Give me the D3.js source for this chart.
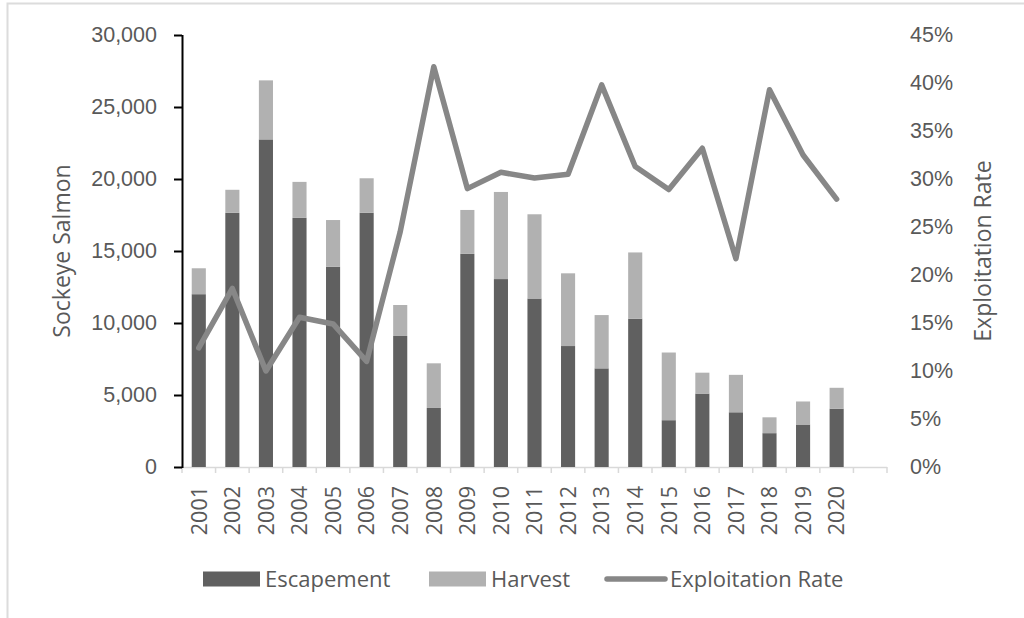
<!DOCTYPE html>
<html>
<head>
<meta charset="utf-8">
<script src="https://cdn.jsdelivr.net/npm/d3@7"></script>
<style>
  body { margin: 0; background: #fff; }
  svg { display: block; font-family: "Open Sans", "Noto Sans", sans-serif; }
  text { fill: #595959; }
</style>
</head>
<body>
<svg id="chart" width="1024" height="618"></svg>
<script>
const years = ["2001","2002","2003","2004","2005","2006","2007","2008","2009","2010",
               "2011","2012","2013","2014","2015","2016","2017","2018","2019","2020"];
const escapement = [12000, 17650, 22750, 17300, 13900, 17650, 9100, 4100, 14800, 13050,
                    11700, 8400, 6850, 10300, 3250, 5100, 3800, 2350, 2950, 4050];
const harvest = [1800, 1600, 4100, 2500, 3250, 2400, 2150, 3100, 3050, 6050,
                 5850, 5050, 3700, 4600, 4700, 1450, 2600, 1100, 1600, 1450];
const exploitRate = [0.124, 0.186, 0.100, 0.156, 0.149, 0.110, 0.245, 0.417, 0.290, 0.307,
                     0.301, 0.305, 0.398, 0.313, 0.289, 0.332, 0.217, 0.393, 0.325, 0.279];
const leftTicks = [0, 5000, 10000, 15000, 20000, 25000, 30000];
const rightTicks = [0, 0.05, 0.10, 0.15, 0.20, 0.25, 0.30, 0.35, 0.40, 0.45];

const svg = d3.select("#chart");
const margin = { top: 35, right: 137, bottom: 151, left: 182 };
const width = 1024 - margin.left - margin.right;
const height = 618 - margin.top - margin.bottom;

// chart area border (only top and left edges show in the crop)
svg.append("path")
    .attr("d", "M7.5,620V3.5H1030")
    .attr("fill", "none")
    .attr("stroke", "#dcdcdc")
    .attr("stroke-width", 2);

const g = svg.append("g").attr("transform", `translate(${margin.left},${margin.top})`);

// one extra empty slot after 2020, like the original
const slots = years.concat(["pad"]);
const x = d3.scaleBand().domain(slots).range([0, width]).padding(0);
const y = d3.scaleLinear().domain([0, 30000]).range([height, 0]);
const y2 = d3.scaleLinear().domain([0, 0.45]).range([height, 0]);

const barW = x.bandwidth() * 0.42;
const cx = d => x(d) + x.bandwidth() / 2;

// bottom axis line + boundary ticks
g.append("line")
    .attr("x1", 0).attr("x2", width)
    .attr("y1", height + 0.5).attr("y2", height + 0.5)
    .attr("stroke", "#d9d9d9").attr("stroke-width", 1.5);

g.selectAll(".xtick")
    .data(d3.range(slots.length + 1))
    .enter().append("line")
    .attr("class", "xtick")
    .attr("x1", i => i * x.step()).attr("x2", i => i * x.step())
    .attr("y1", height).attr("y2", height + 6)
    .attr("stroke", "#d9d9d9").attr("stroke-width", 1.5);

// bars
const bars = g.selectAll(".bar-group")
    .data(years.map((yr, i) => ({ yr, esc: escapement[i], har: harvest[i] })))
    .enter().append("g").attr("class", "bar-group");

bars.append("rect")
    .attr("x", d => cx(d.yr) - barW / 2)
    .attr("width", barW)
    .attr("y", d => y(d.esc))
    .attr("height", d => y(0) - y(d.esc))
    .attr("fill", "#606060");

bars.append("rect")
    .attr("x", d => cx(d.yr) - barW / 2)
    .attr("width", barW)
    .attr("y", d => y(d.esc + d.har))
    .attr("height", d => y(d.esc) - y(d.esc + d.har))
    .attr("fill", "#b1b1b1");

// exploitation rate line
const line = d3.line()
    .x((d, i) => cx(years[i]))
    .y(d => y2(d));

g.append("path")
    .datum(exploitRate)
    .attr("d", line)
    .attr("fill", "none")
    .attr("stroke", "#878787")
    .attr("stroke-width", 5.5)
    .attr("stroke-linejoin", "round")
    .attr("stroke-linecap", "round");

// left axis
const yAxis = g.append("g")
    .call(d3.axisLeft(y).tickValues(leftTicks).tickSize(8).tickPadding(17)
        .tickFormat(d3.format(",")));
yAxis.select(".domain").attr("stroke", "#000").attr("stroke-width", 2)
    .attr("d", `M0.5,0V${height + 1}`);
yAxis.selectAll(".tick line").attr("stroke", "#000").attr("stroke-width", 2);
yAxis.selectAll("text").style("font-size", "21.5px").style("fill", "#595959")
    .attr("font-family", null);

// right axis (labels only)
const y2Axis = g.append("g")
    .attr("transform", `translate(${width},0)`)
    .call(d3.axisRight(y2).tickValues(rightTicks).tickSize(0).tickPadding(23)
        .tickFormat(d3.format(".0%")));
y2Axis.select(".domain").remove();
y2Axis.selectAll("text").style("font-size", "21.5px").style("fill", "#595959")
    .attr("font-family", null);

// x labels, rotated
g.selectAll(".xlabel")
    .data(years)
    .enter().append("text")
    .attr("class", "xlabel")
    .attr("transform", d => `translate(${cx(d)},${height + 19}) rotate(-90)`)
    .attr("text-anchor", "end")
    .attr("dy", "0.36em")
    .style("font-size", "21.5px")
    .text(d => d);

// axis titles
g.append("text")
    .attr("transform", `translate(${-120},${height / 2}) rotate(-90)`)
    .attr("text-anchor", "middle")
    .attr("dy", "0.35em")
    .style("font-size", "23px")
    .text("Sockeye Salmon");

g.append("text")
    .attr("transform", `translate(${width + 96},${height / 2}) rotate(-90)`)
    .attr("text-anchor", "middle")
    .attr("dy", "0.35em")
    .style("font-size", "23px")
    .text("Exploitation Rate");

// legend
const legend = svg.append("g").attr("transform", "translate(0,579)");
const legendItems = [
    { label: "Escapement", type: "rect", color: "#606060", x: 203 },
    { label: "Harvest", type: "rect", color: "#b1b1b1", x: 429 },
    { label: "Exploitation Rate", type: "line", color: "#878787", x: 605 }
];
legendItems.forEach(item => {
    if (item.type === "rect") {
        legend.append("rect")
            .attr("x", item.x).attr("y", -7.5)
            .attr("width", 57).attr("height", 15)
            .attr("fill", item.color);
    } else {
        legend.append("line")
            .attr("x1", item.x + 2).attr("x2", item.x + 60)
            .attr("y1", 0).attr("y2", 0)
            .attr("stroke", item.color).attr("stroke-width", 5.5)
            .attr("stroke-linecap", "round");
    }
    legend.append("text")
        .attr("x", item.x + (item.type === "rect" ? 62 : 65))
        .attr("y", 0)
        .attr("dy", "0.35em")
        .style("font-size", "22px")
        .text(item.label);
});
</script>
</body>
</html>
